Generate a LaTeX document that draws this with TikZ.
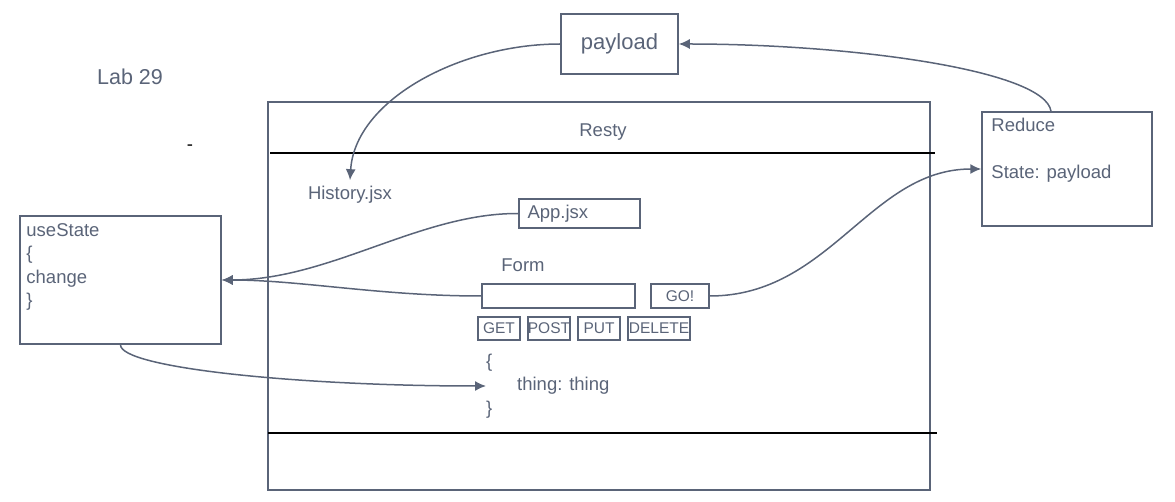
\documentclass[tikz,border=0pt]{standalone}
\usepackage{fontspec}
\setmainfont{Liberation Sans}
\usetikzlibrary{calc, arrows.meta}
\definecolor{ink}{HTML}{5A6478}
\tikzstyle{box}=[draw=ink, line width=1.5pt, inner sep=0pt]
\tikzstyle{txt}=[text=ink, font=\fontsize{18.5}{23.5}\selectfont, inner sep=0pt]
\tikzstyle{btn}=[box, text=ink, font=\fontsize{15.5}{18}\selectfont, minimum height=23pt]
\tikzstyle{link}=[ink, line width=1.5pt]

\begin{document}
\begin{tikzpicture}[x=1pt,y=-1pt,>={Latex[length=11pt,width=10pt]}]
        \useasboundingbox (0,0) rectangle (1175,502);
        % labels outside
        \node [txt, font=\fontsize{21.5}{25}\selectfont] (lab) at (130,77) {Lab 29};
        \node [txt, text=black] (dash) at (190,148) {-};
        \node [box, txt, font=\fontsize{22}{26}\selectfont, minimum width=117pt, minimum height=60pt] (payload) at (619.5,44) {payload};
        % resty frame
        \node [box, minimum width=662pt, minimum height=388pt] (resty) at (599,296) {};
        \draw [line width=2pt] (270,153) -- (935,153);
        \draw [line width=2pt] (268,433) -- (937,433);
        \node [txt] (title) at (603,132) {Resty};
        \node [txt] (history) at (350,195) {History.jsx};
        \node [box, txt, text width=104pt, inner xsep=8.5pt, align=left, minimum height=29pt] (app) at (579.5,213.5) {App.jsx};
        \node [txt] (form) at (523,265) {Form};
        \node [box, minimum width=153pt, minimum height=24pt] (input) at (558.5,296) {};
        \node [btn, minimum width=58pt, minimum height=24pt] (go) at (680,296) {GO!};
        \node [btn, minimum width=42pt] (get) at (499,328.5) {GET};
        \node [btn, minimum width=42pt] (post) at (549,328.5) {POST};
        \node [btn, minimum width=42pt] (put) at (599,328.5) {PUT};
        \node [btn, minimum width=62pt] (delete) at (659,328.5) {DELETE};
        \node [txt, align=left, anchor=west] (obj) at (486,386) {\{\\\hspace*{31pt}thing: thing\\\}};
        % side boxes
        \node [box, minimum width=201pt, minimum height=128pt] (usestate) at (120.5,280) {};
        \node [txt, align=left, anchor=north west] (usetext) at ($(usestate.north west)+(7,8)$) {useState\\\{\\change\\\}};
        \node [box, minimum width=170pt, minimum height=114pt] (reduce) at (1067,169) {};
        \node [txt, align=left, anchor=north west] (redtext) at ($(reduce.north west)+(10,7)$) {Reduce\\[23pt]State: payload};
        % connectors
        \draw [link,->] ($(reduce.north)+(-16,0)$) .. controls (1045,70) and (850,44) .. (payload.east);
        \draw [link,->] (payload.west) .. controls (460,44) and (355,100) .. ($(history.north)+(0,-6)$);
        \draw [link,->] (app.west) .. controls (420,213) and (330,280) .. (usestate.east);
        \draw [link,->] (input.west) .. controls (380,296) and (300,280) .. (usestate.east);
        \draw [link,->] (go.east) .. controls (830,296) and (870,169) .. (reduce.west);
        \draw [link,->] (usestate.south) .. controls (120,368) and (300,386) .. (obj.west);
    \end{tikzpicture}
\end{document}
